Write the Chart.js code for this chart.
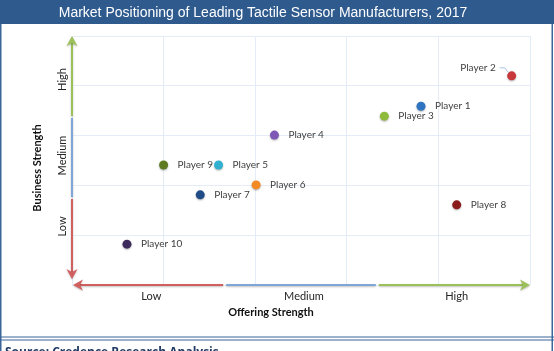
<!DOCTYPE html>
<html lang="en">
<head>
  <meta charset="UTF-8">
  <title>Market Positioning of Leading Tactile Sensor Manufacturers, 2017</title>
  <style>
    body {
      margin: 0;
      padding: 0;
      background-color: white;
    }
    #chart {
      display: block;
    }
  </style>
</head>
<body>
  <canvas id="chart" width="554" height="351"></canvas>

  <script src="https://cdn.jsdelivr.net/npm/chart.js"></script>
  <script>
    const chartTitle = "Market Positioning of Leading Tactile Sensor Manufacturers, 2017";
    const sourceText = "Source: Credence Research Analysis";
    const xAxisTitle = "Offering Strength";
    const yAxisTitle = "Business Strength";
    const levels = ["Low", "Medium", "High"];

    const players = ["Player 1", "Player 2", "Player 3", "Player 4", "Player 5",
                     "Player 6", "Player 7", "Player 8", "Player 9", "Player 10"];
    const offeringStrength = [3.81, 4.80, 3.41, 2.21, 1.60, 2.01, 1.40, 4.20, 1.00, 0.60];
    const businessStrength = [3.59, 4.20, 3.39, 3.01, 2.41, 2.01, 1.81, 1.61, 2.41, 0.82];
    const playerColors = ["#2f74c0", "#c8373a", "#8fbb3c", "#7e58b4", "#31b1cf",
                          "#f28a25", "#1f4c86", "#8a1c1c", "#5e7b22", "#3d2a5c"];

    const levelColors = ["#d0605f", "#7fa6d6", "#9cc15b"];
    const navy = "#2e5a8e";

    // stealth style arrow head, tip at (x, y), pointing along angle
    function arrowHead(ctx, x, y, angle, color) {
      ctx.save();
      ctx.translate(x, y);
      ctx.rotate(angle);
      ctx.fillStyle = color;
      ctx.beginPath();
      ctx.moveTo(0, 0);
      ctx.lineTo(-10, -5.5);
      ctx.lineTo(-7, 0);
      ctx.lineTo(-10, 5.5);
      ctx.closePath();
      ctx.fill();
      ctx.restore();
    }

    function line(ctx, x1, y1, x2, y2, color, w) {
      ctx.strokeStyle = color;
      ctx.lineWidth = w;
      ctx.beginPath();
      ctx.moveTo(x1, y1);
      ctx.lineTo(x2, y2);
      ctx.stroke();
    }

    const decorations = {
      id: "decorations",
      beforeDraw(chart) {
        const ctx = chart.ctx;
        ctx.save();
        ctx.fillStyle = "white";
        ctx.fillRect(0, 0, chart.width, chart.height);

        // title bar
        ctx.fillStyle = navy;
        ctx.fillRect(0, 0, chart.width, 24);
        ctx.fillStyle = "white";
        ctx.font = "14px 'Liberation Sans', Arial, sans-serif";
        ctx.textAlign = "center";
        ctx.textBaseline = "middle";
        ctx.fillText(chartTitle, 263, 13);

        // frame
        ctx.strokeStyle = "#3b6699";
        ctx.lineWidth = 1.5;
        line(ctx, 0.75, 24, 0.75, 351, "#3b6699", 1.5);
        line(ctx, 552.25, 24, 552.25, 351, "#3b6699", 1.5);
        line(ctx, 0, 337, 554, 337, "#3b6699", 1.2);
        line(ctx, 0, 340, 554, 340, "#3b6699", 1.2);

        // source
        ctx.fillStyle = "#1f3a64";
        ctx.font = "bold 12px 'Open Sans', sans-serif";
        ctx.textAlign = "left";
        ctx.textBaseline = "alphabetic";
        ctx.fillText(sourceText, 5, 356);
        ctx.restore();
      },
      beforeDatasetsDraw(chart) {
        const ctx = chart.ctx;
        const xs = chart.scales.x;
        const ys = chart.scales.y;
        const x0 = xs.getPixelForValue(0);
        const x5 = xs.getPixelForValue(5);
        const y0 = ys.getPixelForValue(0);
        const y5 = ys.getPixelForValue(5);
        ctx.save();
        ctx.shadowColor = "rgba(0,0,0,0.25)";
        ctx.shadowBlur = 2;
        ctx.shadowOffsetY = 1;

        // horizontal arrow in thirds
        const hw = (x5 - x0) / 3;
        for (let i = 0; i < 3; i++) {
          const a = x0 + hw * i + (i === 0 ? 6 : 1.5);
          const b = x0 + hw * (i + 1) - (i === 2 ? 6 : 1.5);
          line(ctx, a, y0, b, y0, levelColors[i], 2);
        }
        arrowHead(ctx, x0 + 1, y0, Math.PI, levelColors[0]);
        arrowHead(ctx, x5, y0, 0, levelColors[2]);

        // vertical arrow in thirds (stops short of the corner)
        const vb = y0 - 6;
        const vh = (vb - y5) / 3;
        for (let i = 0; i < 3; i++) {
          const a = vb - vh * i - (i === 0 ? 6 : 1);
          const b = vb - vh * (i + 1) + (i === 2 ? 6 : 1);
          line(ctx, x0, a, x0, b, levelColors[i], 2);
        }
        arrowHead(ctx, x0, vb, Math.PI / 2, levelColors[0]);
        arrowHead(ctx, x0, y5, -Math.PI / 2, levelColors[2]);
        ctx.restore();

        // level labels
        ctx.save();
        ctx.fillStyle = "#262626";
        ctx.font = "11px Lato, sans-serif";
        ctx.textAlign = "center";
        ctx.textBaseline = "middle";
        levels.forEach((lv, i) => {
          ctx.fillText(lv, x0 + hw * (i + 0.5) + 3, y0 + 11);
        });
        const yCenters = [229, 158, 80];
        levels.forEach((lv, i) => {
          ctx.save();
          ctx.translate(x0 - 10, vb - vh * (i + 0.5) - (i === 0 ? 12 : i === 1 ? 2 : -3));
          ctx.rotate(-Math.PI / 2);
          ctx.fillText(lv, 0, 0);
          ctx.restore();
        });

        ctx.font = "bold 11px Lato, sans-serif";
        ctx.fillStyle = "#111";
        ctx.fillText(xAxisTitle, 271, y0 + 27);
        ctx.save();
        ctx.translate(37, 168);
        ctx.rotate(-Math.PI / 2);
        ctx.fillText(yAxisTitle, 0, 0);
        ctx.restore();
        ctx.restore();

        // soft shadow for markers
        ctx.save();
        ctx.shadowColor = "rgba(0,0,0,0.3)";
        ctx.shadowBlur = 2;
        ctx.shadowOffsetY = 1;
      },
      afterDatasetsDraw(chart) {
        const ctx = chart.ctx;
        ctx.restore();
        const meta = chart.getDatasetMeta(0);
        ctx.save();
        ctx.font = "10px Lato, sans-serif";
        ctx.fillStyle = "#404040";
        ctx.textBaseline = "middle";
        meta.data.forEach((pt, i) => {
          const name = players[i];
          if (name === "Player 2") {
            ctx.textAlign = "right";
            ctx.fillText(name, pt.x - 16, pt.y - 8);
            ctx.strokeStyle = "#a9c3e3";
            ctx.lineWidth = 1;
            ctx.beginPath();
            ctx.moveTo(pt.x - 12, pt.y - 8);
            ctx.lineTo(pt.x - 7, pt.y - 8);
            ctx.lineTo(pt.x - 3, pt.y - 3);
            ctx.stroke();
          } else {
            ctx.textAlign = "left";
            ctx.fillText(name, pt.x + 14, pt.y);
          }
        });
        ctx.restore();
      }
    };

    const ctx = document.getElementById("chart").getContext("2d");
    new Chart(ctx, {
      type: "scatter",
      data: {
        datasets: [{
          label: "Players",
          data: players.map((p, i) => ({ x: offeringStrength[i], y: businessStrength[i] })),
          pointBackgroundColor: playerColors,
          pointBorderWidth: 0,
          pointRadius: 4.5,
          pointHoverRadius: 4.5
        }]
      },
      options: {
        responsive: false,
        animation: false,
        devicePixelRatio: 1,
        layout: {
          padding: { left: 72, right: 24, top: 36, bottom: 66 }
        },
        plugins: {
          legend: { display: false },
          title: { display: false },
          tooltip: { enabled: false }
        },
        scales: {
          x: {
            type: "linear",
            min: 0,
            max: 5,
            ticks: { display: false, stepSize: 1 },
            grid: { color: "#e4ecf7", drawTicks: false },
            border: { display: false }
          },
          y: {
            type: "linear",
            min: 0,
            max: 5,
            ticks: { display: false, stepSize: 1 },
            grid: { color: "#e4ecf7", drawTicks: false },
            border: { display: false }
          }
        }
      },
      plugins: [decorations]
    });
  </script>
</body>
</html>
